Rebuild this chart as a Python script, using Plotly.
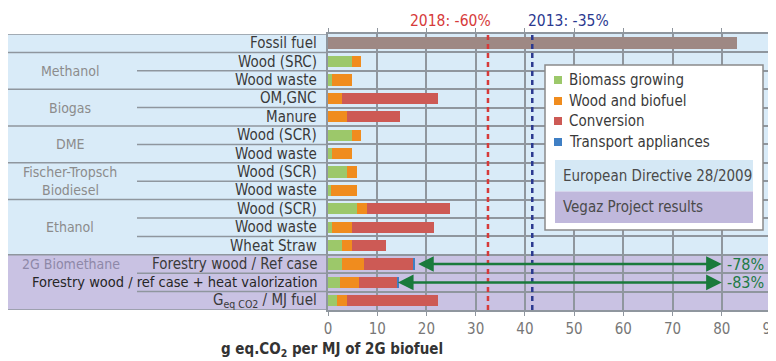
import plotly.graph_objects as go

# Rows of the chart, top to bottom
row_labels = [
    'Fossil fuel',
    'Wood (SRC)', 'Wood waste',
    'OM,GNC', 'Manure',
    'Wood (SCR)', 'Wood waste',
    'Wood (SCR)', 'Wood waste',
    'Wood (SCR)', 'Wood waste', 'Wheat Straw',
    'Forestry wood / Ref case',
    'Forestry wood / ref case + heat valorization',
    'G<sub>eq CO2</sub> / MJ fuel',
]

# g eq.CO2 per MJ, by stage
fossil_fuel = [83, 0, 0, 0, 0, 0, 0, 0, 0, 0, 0, 0, 0, 0, 0]
biomass_growing = [0, 4.9, 0.8, 0, 0, 4.9, 0.8, 3.9, 0.6, 5.9, 0.8, 2.8, 2.8, 2.4, 1.8]
wood_and_biofuel = [0, 1.9, 4.1, 2.8, 3.9, 1.9, 4.1, 2.0, 5.3, 2.0, 4.1, 2.0, 4.6, 3.9, 2.0]
conversion = [0, 0, 0, 19.6, 10.7, 0, 0, 0, 0, 16.8, 16.7, 7.0, 10.0, 7.9, 18.6]
transport_appliances = [0, 0, 0, 0, 0, 0, 0, 0, 0, 0, 0, 0, 0.35, 0.2, 0]

series_names = ['Biomass growing', 'Wood and biofuel', 'Conversion', 'Transport appliances']
series_values = [biomass_growing, wood_and_biofuel, conversion, transport_appliances]
series_colors = ['#9cc86a', '#f08c1e', '#cd5a55', '#3f7fc4']

# fuel groups: (label, row position)
group_labels = [('Methanol', 1.5), ('Biogas', 3.5), ('DME', 5.5),
                ('Fischer-Tropsch', 7), ('Biodiesel', 8), ('Ethanol', 10)]

# EU directive thresholds
targets = [('2018: -60%', 32.5, '#d63a3a'), ('2013: -35%', 41.5, '#2b3990')]
# Vegaz reductions vs fossil: (row, end of bar, label)
reductions = [(12, 18.0, '-78%'), (13, 13.9, '-83%')]

x_ticks = [0, 10, 20, 30, 40, 50, 60, 70, 80, 90]

FONT = 'DejaVu Sans Condensed, Liberation Sans Narrow, sans-serif'
GRID = '#8f969e'
BLUE_BG = '#d9ebf8'
PURPLE_BG = '#c9c2e3'

# page body adds an 8px margin, so the figure is drawn 8px in from the window corner
OFF = 8
W, H = 776 - OFF, 361 - OFF
L, R, T, B = 320, 5, 26, 51
pw, ph = W - L - R, H - T - B


def px_x(p):
    # window pixel -> paper x
    return (p - OFF - L) / pw


def px_y(p):
    # window pixel -> paper y
    return (H - B - (p - OFF)) / ph


rows = list(range(len(row_labels)))

fig = go.Figure()
fig.add_trace(go.Bar(y=rows, x=fossil_fuel, orientation='h', width=0.64,
                     marker=dict(color='#9e8884', line=dict(width=0)),
                     showlegend=False, hoverinfo='skip'))
for name, vals, col in zip(series_names, series_values, series_colors):
    fig.add_trace(go.Bar(y=rows, x=vals, orientation='h', name=name, width=0.6,
                         marker=dict(color=col, line=dict(width=0)), showlegend=False))

shapes = []
# background bands (blue: directive, purple: project results)
shapes.append(dict(type='rect', xref='paper', yref='y', x0=px_x(8), x1=1, y0=-0.5, y1=11.5,
                   fillcolor=BLUE_BG, line_width=0, layer='below'))
shapes.append(dict(type='rect', xref='paper', yref='y', x0=px_x(8), x1=1, y0=11.5, y1=14.5,
                   fillcolor=PURPLE_BG, line_width=0, layer='below'))
# separator lines in the label panel
full_lines = [-0.5, 0.5, 2.5, 4.5, 6.5, 8.5, 11.5, 14.5]
part_lines = [1.5, 3.5, 5.5, 7.5, 9.5, 10.5, 12.5, 13.5]
for yy in full_lines:
    shapes.append(dict(type='line', xref='paper', yref='y', x0=px_x(8), x1=0, y0=yy, y1=yy,
                       line=dict(color=GRID, width=1.5)))
for yy in part_lines:
    shapes.append(dict(type='line', xref='paper', yref='y', x0=px_x(137), x1=0, y0=yy, y1=yy,
                       line=dict(color=GRID, width=1.5)))
# threshold lines
for txt, xv, col in targets:
    shapes.append(dict(type='line', xref='x', yref='paper', x0=xv, x1=xv, y0=0, y1=1.01,
                       line=dict(color=col, width=2.5, dash='5px,4px')))

# legend box
shapes.append(dict(type='rect', xref='paper', yref='paper', x0=px_x(545), x1=px_x(763),
                   y0=px_y(230), y1=px_y(65), fillcolor='white',
                   line=dict(color='#8a8a8a', width=1.5)))
leg_y = [80, 101, 121, 142]
for yy, col in zip(leg_y, series_colors):
    shapes.append(dict(type='rect', xref='paper', yref='paper', x0=px_x(554), x1=px_x(562),
                       y0=px_y(yy + 4), y1=px_y(yy - 4), fillcolor=col, line_width=0))
shapes.append(dict(type='rect', xref='paper', yref='paper', x0=px_x(555), x1=px_x(753),
                   y0=px_y(191.5), y1=px_y(160), fillcolor='#d5e8f5', line_width=0))
shapes.append(dict(type='rect', xref='paper', yref='paper', x0=px_x(555), x1=px_x(753),
                   y0=px_y(223), y1=px_y(191.5), fillcolor='#c0b8dc', line_width=0))

ann = []
for i, lab in enumerate(row_labels):
    col = '#262626' if i == 13 else '#3a3a3a'
    size = 14.5 if i == 13 else 15
    ann.append(dict(x=px_x(319), y=i, xref='paper', yref='y', text=lab, showarrow=False,
                    xanchor='right', yanchor='middle', font=dict(size=size, color=col)))
for lab, yy in group_labels:
    ann.append(dict(x=px_x(70), y=yy, xref='paper', yref='y', text=lab, showarrow=False,
                    xanchor='center', yanchor='middle', font=dict(size=14, color='#8c8c8c')))
ann.append(dict(x=px_x(20), y=12, xref='paper', yref='y', text='2G Biomethane', showarrow=False,
                xanchor='left', yanchor='middle', font=dict(size=14, color='#8e88a8')))

for (txt, xv, col), xc in zip(targets, [450, 568]):
    ann.append(dict(x=px_x(xc), y=px_y(21), xref='paper', yref='paper', text=txt, showarrow=False,
                    xanchor='center', yanchor='middle', font=dict(size=15.5, color=col)))

for row, start, txt in reductions:
    ann.append(dict(x=80, y=row, ax=start, ay=row, xref='x', yref='y', axref='x', ayref='y',
                    text='', showarrow=True, arrowhead=2, arrowside='end+start',
                    arrowsize=1.25, arrowwidth=2.5, arrowcolor='#1a7a3c'))
    ann.append(dict(x=80.6, y=row, xref='x', yref='y', text=txt, showarrow=False,
                    xanchor='left', yanchor='middle', font=dict(size=16, color='#1d7a45')))

for yy, name in zip(leg_y, series_names):
    ann.append(dict(x=px_x(567), y=px_y(yy), xref='paper', yref='paper', text=name,
                    showarrow=False, xanchor='left', yanchor='middle',
                    font=dict(size=15, color='#3a3a3a')))
ann.append(dict(x=px_x(561), y=px_y(176), xref='paper', yref='paper',
                text='European Directive 28/2009', showarrow=False, xanchor='left',
                yanchor='middle', font=dict(size=15, color='#4a4a4a')))
ann.append(dict(x=px_x(561), y=px_y(207), xref='paper', yref='paper',
                text='Vegaz Project results', showarrow=False, xanchor='left',
                yanchor='middle', font=dict(size=15, color='#4a4a4a')))

ann.append(dict(x=px_x(332), y=px_y(349), xref='paper', yref='paper',
                text='<b>g eq.CO<sub>2</sub> per MJ of 2G biofuel</b>', showarrow=False,
                xanchor='center', yanchor='middle', font=dict(size=15, color='#333333')))

fig.update_layout(
    width=W, height=H, barmode='stack',
    margin=dict(l=L, r=R, t=T, b=B, autoexpand=False),
    paper_bgcolor='white', plot_bgcolor='rgba(0,0,0,0)',
    font=dict(family=FONT),
    shapes=shapes, annotations=ann, showlegend=False,
    xaxis=dict(range=[0, 90], tickvals=x_ticks, showgrid=True, gridcolor=GRID, gridwidth=1.5,
               showline=True, linecolor=GRID, linewidth=1.5, mirror='allticks',
               ticks='outside', ticklen=4, tickcolor=GRID, zeroline=False,
               ticklabeloverflow='allow', automargin=False,
               tickfont=dict(size=15, color='#777777')),
    yaxis=dict(range=[14.5, -0.5], tickvals=[r + 0.5 for r in rows[:-1]], showticklabels=False,
               showgrid=True, gridcolor=GRID, gridwidth=1.5, ticks='', zeroline=False,
               showline=True, linecolor=GRID, linewidth=1.5, mirror=True),
)

fig.write_html('out.html')
